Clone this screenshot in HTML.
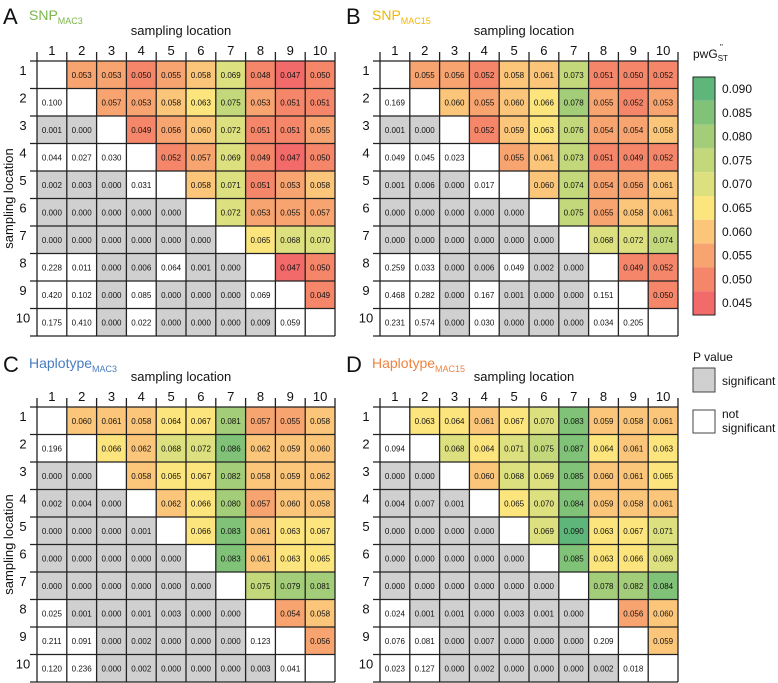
<!DOCTYPE html>
<html><head><meta charset="utf-8"><style>
html,body{margin:0;padding:0;background:#fff;}
svg{display:block;font-family:"Liberation Sans",Arial,sans-serif;}
</style></head><body>
<svg id="fig" width="778" height="683" viewBox="0 0 778 683" xmlns="http://www.w3.org/2000/svg"></svg>
<script>
// Upper triangle: pwG''ST; lower triangle: P values; diagonal null
const snpMac3 = [
[null,.053,.053,.050,.055,.058,.069,.048,.047,.050],
[.100,null,.057,.053,.058,.063,.075,.053,.051,.051],
[.001,.000,null,.049,.056,.060,.072,.051,.051,.055],
[.044,.027,.030,null,.052,.057,.069,.049,.047,.050],
[.002,.003,.000,.031,null,.058,.071,.051,.053,.058],
[.000,.000,.000,.000,.000,null,.072,.053,.055,.057],
[.000,.000,.000,.000,.000,.000,null,.065,.068,.070],
[.228,.011,.000,.006,.064,.001,.000,null,.047,.050],
[.420,.102,.000,.085,.000,.000,.000,.069,null,.049],
[.175,.410,.000,.022,.000,.000,.000,.009,.059,null]];
const snpMac15 = [
[null,.055,.056,.052,.058,.061,.073,.051,.050,.052],
[.169,null,.060,.055,.060,.066,.078,.055,.052,.053],
[.001,.000,null,.052,.059,.063,.076,.054,.054,.058],
[.049,.045,.023,null,.055,.061,.073,.051,.049,.052],
[.001,.006,.000,.017,null,.060,.074,.054,.056,.061],
[.000,.000,.000,.000,.000,null,.075,.055,.058,.061],
[.000,.000,.000,.000,.000,.000,null,.068,.072,.074],
[.259,.033,.000,.006,.049,.002,.000,null,.049,.052],
[.468,.282,.000,.167,.001,.000,.000,.151,null,.050],
[.231,.574,.000,.030,.000,.000,.000,.034,.205,null]];
const hapMac3 = [
[null,.060,.061,.058,.064,.067,.081,.057,.055,.058],
[.196,null,.066,.062,.068,.072,.086,.062,.059,.060],
[.000,.000,null,.058,.065,.067,.082,.058,.059,.062],
[.002,.004,.000,null,.062,.066,.080,.057,.060,.058],
[.000,.000,.000,.001,null,.066,.083,.061,.063,.067],
[.000,.000,.000,.000,.000,null,.083,.061,.063,.065],
[.000,.000,.000,.000,.000,.000,null,.075,.079,.081],
[.025,.001,.000,.001,.003,.000,.000,null,.054,.058],
[.211,.091,.000,.002,.000,.000,.000,.123,null,.056],
[.120,.236,.000,.002,.000,.000,.000,.003,.041,null]];
const hapMac15 = [
[null,.063,.064,.061,.067,.070,.083,.059,.058,.061],
[.094,null,.068,.064,.071,.075,.087,.064,.061,.063],
[.000,.000,null,.060,.068,.069,.085,.060,.061,.065],
[.004,.007,.001,null,.065,.070,.084,.059,.058,.061],
[.000,.000,.000,.000,null,.069,.090,.063,.067,.071],
[.000,.000,.000,.000,.000,null,.085,.063,.066,.069],
[.000,.000,.000,.000,.000,.000,null,.078,.082,.084],
[.024,.001,.001,.000,.003,.001,.000,null,.056,.060],
[.076,.081,.000,.007,.000,.000,.000,.209,null,.059],
[.023,.127,.000,.002,.000,.000,.000,.002,.018,null]];
const locations = ["1","2","3","4","5","6","7","8","9","10"];
const binValues = [0.045,0.050,0.055,0.060,0.065,0.070,0.075,0.080,0.085,0.090];
const binColors = ["#f26a6a","#f5866a","#f8a470","#fbc57a","#fde57e","#dde07e","#c3d87a","#a3cd78","#80c378","#5fb67a"];
const sigThreshold = 0.01;

const NS="http://www.w3.org/2000/svg";
const svg=document.getElementById('fig');
function mk(tag,attrs,parent){const e=document.createElementNS(NS,tag);for(const k in attrs)e.setAttribute(k,attrs[k]);(parent||svg).appendChild(e);return e;}
function colorFor(v){let bi=Math.round((v-binValues[0])/0.005);bi=Math.max(0,Math.min(binColors.length-1,bi));return binColors[bi];}

const panels=[
 {id:"a",letter:"A",title:"SNP",sub:"MAC3",tcol:"#7ab648",data:snpMac3,gx:37,gy:61,lx:3,ly:24},
 {id:"b",letter:"B",title:"SNP",sub:"MAC15",tcol:"#f2b705",data:snpMac15,gx:380,gy:61,lx:346,ly:24},
 {id:"c",letter:"C",title:"Haplotype",sub:"MAC3",tcol:"#4a7cc0",data:hapMac3,gx:37,gy:407,lx:3,ly:372},
 {id:"d",letter:"D",title:"Haplotype",sub:"MAC15",tcol:"#ef8440",data:hapMac15,gx:380,gy:407,lx:346,ly:372}];
const cw=29.8, ch=27.5;

panels.forEach(p=>{
 const g=mk('g',{});
 
 
 const L=mk('text',{x:p.lx,y:p.ly,'font-size':22,fill:'#111'},g);L.textContent=p.letter;
 
 const T=mk('text',{x:p.lx+26,y:p.ly-4,'font-size':14,fill:p.tcol},g);
 
 T.textContent=p.title;
 const ts=mk('tspan',{'font-size':9,dy:4},T);ts.textContent=p.sub;
 const gw=cw*10, gh=ch*10;
 const xt=mk('text',{x:p.gx+gw/2-5,y:p.gy-26,'font-size':13,'text-anchor':'middle',fill:'#111'},g);xt.textContent='sampling location';
 
 if(p.id==='a'||p.id==='c'){
  const cy=p.gy+gh/2;
  const yt=mk('text',{x:13,y:cy,'font-size':13,'text-anchor':'middle',fill:'#111',transform:`rotate(-90 13 ${cy})`},g);yt.textContent='sampling location';
  
 }
 locations.forEach((lab,i)=>{
  const c=mk('text',{x:p.gx+cw*(i+0.5),y:p.gy-6,'font-size':13,'text-anchor':'middle',fill:'#111'},g);c.textContent=lab;
  
  const r=mk('text',{x:p.gx-14,y:p.gy+ch*i+14,'font-size':13,'text-anchor':'middle',fill:'#111'},g);r.textContent=lab;
  
 });
 p.data.forEach((row,i)=>row.forEach((v,j)=>{
  const x=p.gx+cw*j,y=p.gy+ch*i;
  let fill='#fff';
  if(v!==null){ if(j>i) fill=colorFor(v); else if(v<sigThreshold) fill='#d0d0d0'; }
  const r=mk('rect',{x:x,y:y,width:cw,height:ch,fill:fill},g);
  
  
  if(v!==null){
   const t=mk('text',{x:x+cw/2,y:y+ch/2+3,'font-size':8,'text-anchor':'middle',fill:'#111'},g);
   t.textContent=v.toFixed(3);
   
  }
 }));
 for(let k=0;k<=10;k++){
  const x=p.gx+cw*k;
  mk('line',{x1:x,y1:p.gy-9,x2:x,y2:p.gy+gh,stroke:'#222','stroke-width':1.3},g);
  const y=p.gy+ch*k;
  mk('line',{x1:p.gx-7,y1:y,x2:p.gx+gw,y2:y,stroke:'#222','stroke-width':1.3},g);
 }
});

// colorbar
const cb=mk('g',{});


const cbt=mk('text',{x:693,y:58,'font-size':12,fill:'#111'},cb);cbt.textContent='pwG';
const cbs=mk('tspan',{'font-size':8,dy:3},cbt);cbs.textContent='ST';
const cbq=mk('text',{x:720,y:50,'font-size':8,fill:'#111'},cb);cbq.textContent='"';
const bx=693,by=77,bw=22,bh=23.8;
binValues.slice().reverse().forEach((v,i)=>{
 const r=mk('rect',{x:bx,y:by+bh*i,width:bw,height:bh,fill:colorFor(v)},cb);
 
 const t=mk('text',{x:bx+29,y:by+bh*i+16,'font-size':12,fill:'#111'},cb);t.textContent=v.toFixed(3);
 
});
mk('rect',{x:bx,y:by,width:bw,height:bh*10,fill:'none',stroke:'#222','stroke-width':1},cb);

const lg=mk('g',{});


const pt=mk('text',{x:693,y:361,'font-size':12,fill:'#111'},lg);pt.textContent='P value';
const s1=mk('rect',{x:693,y:368,width:22,height:24,fill:'#d0d0d0',stroke:'#444','stroke-width':1},lg);

const st=mk('text',{x:722,y:385,'font-size':12,fill:'#111'},lg);st.textContent='significant';
const s2=mk('rect',{x:693,y:410,width:22,height:23,fill:'#fff',stroke:'#444','stroke-width':1},lg);

const n1=mk('text',{x:722,y:418,'font-size':12,fill:'#111'},lg);n1.textContent='not';
const n2=mk('text',{x:722,y:432,'font-size':12,fill:'#111'},lg);n2.textContent='significant';
</script>
</body></html>
